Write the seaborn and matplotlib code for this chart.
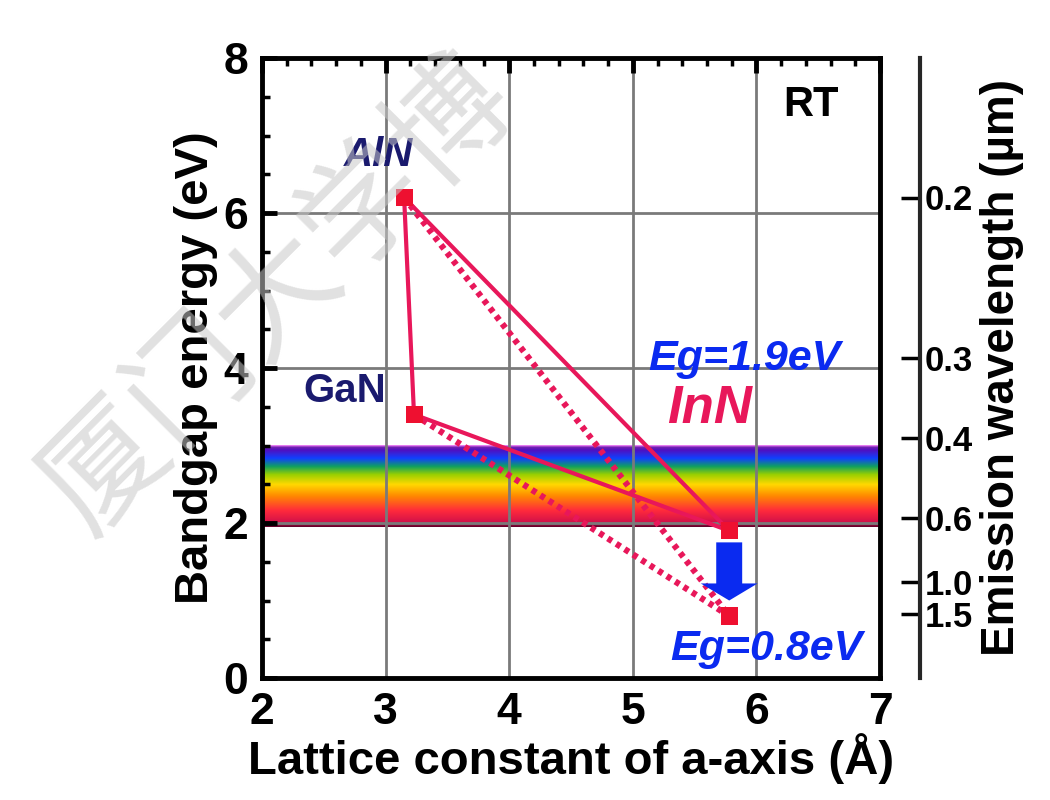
import numpy as np
import pandas as pd
import matplotlib
matplotlib.use("Agg")
import matplotlib.pyplot as plt
from matplotlib.colors import LinearSegmentedColormap
from matplotlib.patches import FancyArrow
import seaborn as sns

# ── data ─────────────────────────────────────────────
compounds = ["AlN", "GaN", "InN"]
lattice_a = [3.15, 3.23, 5.78]          # Å
gap_old = [6.2, 3.4, 1.9]               # eV (old InN value)
gap_new = [6.2, 3.4, 0.8]               # eV (new InN value)
wavelengths = [0.2, 0.3, 0.4, 0.6, 1.0, 1.5]   # µm, right axis labels
visible_band = [1.95, 3.0]              # eV range of the rainbow strip

# ── style ────────────────────────────────────────────
sns.set_style("white")
FONT = ["Liberation Sans", "DejaVu Sans"]
plt.rcParams["font.family"] = FONT
plt.rcParams["font.weight"] = "bold"
plt.rcParams["axes.labelweight"] = "bold"
for key in ["text.color", "axes.labelcolor", "xtick.color", "ytick.color"]:
    plt.rcParams[key] = "black"

pink = "#e8175a"
navy = "#1a1a6e"
blue = "#0a2af0"

fig = plt.figure(figsize=(10.5, 8), dpi=100)
ax = fig.add_axes([0.2495, 0.1525, 0.5886, 0.775])

# rainbow strip
rainbow = LinearSegmentedColormap.from_list("vis", [
    (0.00, "#5a0028"), (0.05, "#d0104a"), (0.20, "#ff2a3c"),
    (0.38, "#ff8a00"), (0.52, "#ffd800"), (0.64, "#9ad000"),
    (0.74, "#10a060"), (0.84, "#1040ff"), (0.94, "#5010c0"),
    (0.975, "#7020b0"), (1.00, "#ff90ff")])
grad = np.linspace(0, 1, 256).reshape(-1, 1)
ax.imshow(grad, cmap=rainbow, origin="lower", aspect="auto",
          extent=[2, 7, visible_band[0], visible_band[1]], zorder=1)

# solid triangle (old InN gap)
df_solid = pd.DataFrame({"a": lattice_a + [lattice_a[0]],
                         "Eg": gap_old + [gap_old[0]]})
sns.lineplot(data=df_solid, x="a", y="Eg", sort=False, estimator=None,
             color=pink, lw=3, ax=ax, zorder=4)
# dotted lines to new InN gap
for i in range(2):
    df_dot = pd.DataFrame({"a": [lattice_a[i], lattice_a[2]],
                           "Eg": [gap_new[i], gap_new[2]]})
    sns.lineplot(data=df_dot, x="a", y="Eg", sort=False, estimator=None,
                 color=pink, lw=4.5, ls=(0, (0.8, 0.8)), ax=ax, zorder=4)

# arrow from old to new InN gap
ax.add_patch(FancyArrow(lattice_a[2], gap_old[2] - 0.15, 0,
                        -(gap_old[2] - gap_new[2] - 0.35),
                        width=0.21, head_width=0.46, head_length=0.22,
                        length_includes_head=True, color=blue, lw=0, zorder=5))

pts = pd.DataFrame({"a": lattice_a + [lattice_a[2]],
                    "Eg": gap_old + [gap_new[2]]})
sns.scatterplot(data=pts, x="a", y="Eg", marker="s", s=150, color="#ee1030",
                edgecolor="none", ax=ax, zorder=6)

# labels
ax.text(2.94, 6.75, "AlN", color=navy, fontsize=29, style="italic",
        ha="center", va="center", zorder=7)
ax.text(2.67, 3.7, "GaN", color=navy, fontsize=29, ha="center",
        va="center", zorder=7)
ax.text(5.9, 4.12, "Eg=1.9eV", color=blue, fontsize=31, style="italic",
        ha="center", va="center", zorder=7)
ax.text(5.62, 3.47, "InN", color=pink, fontsize=38, style="italic",
        ha="center", va="center", zorder=7)
ax.text(6.08, 0.37, "Eg=0.8eV", color=blue, fontsize=31, style="italic",
        ha="center", va="center", zorder=7)
ax.text(6.44, 7.4, "RT", color="black", fontsize=30, ha="center",
        va="center", zorder=7)

# axes
ax.set_xlim(2, 7)
ax.set_ylim(0, 8)
ax.set_xticks(range(2, 8))
ax.set_yticks(range(0, 9, 2))
ax.set_xticks(np.arange(2, 7.01, 0.2), minor=True)
ax.set_yticks(np.arange(0, 8.01, 0.5), minor=True)
ax.grid(True, which="major", color="#7a7a7a", lw=2, zorder=2)
ax.set_axisbelow(False)
for s in ax.spines.values():
    s.set_linewidth(3.5)
    s.set_color("black")
    s.set_zorder(8)
ax.tick_params(which="major", direction="in", length=11, width=3.5,
               top=True, right=True, labelsize=32, pad=10)
ax.tick_params(which="minor", direction="in", length=6, width=2.5,
               top=True, right=True)
ax.set_xlabel("Lattice constant of a-axis (Å)", fontsize=34, labelpad=0)
ax.set_ylabel("Bandgap energy (eV)", fontsize=34, labelpad=4)

# right wavelength axis
ax2 = ax.twinx()
ax2.set_ylim(0, 8)
for k in ["left", "top", "bottom"]:
    ax2.spines[k].set_visible(False)
ax2.spines["right"].set_position(("axes", 1.065))
ax2.spines["right"].set_linewidth(3)
ax2.set_yticks([1.24 / w for w in wavelengths])
ax2.set_yticklabels([f"{w:.1f}" for w in wavelengths])
ax2.tick_params(axis="y", direction="in", length=14, width=2.5,
                labelsize=25, pad=3)
ax2.set_ylabel("Emission wavelength (µm)", fontsize=33, labelpad=5)
ax2.grid(False)

# watermark
fig.text(0.06, 0.36, "厦门大学博", fontsize=88,
         family=["Noto Sans CJK SC", "DejaVu Sans"], weight="normal",
         color="#c8c8c8", alpha=0.55, rotation=45, rotation_mode="anchor",
         ha="left", va="center", zorder=20)

fig.savefig("out.png", dpi=100)
